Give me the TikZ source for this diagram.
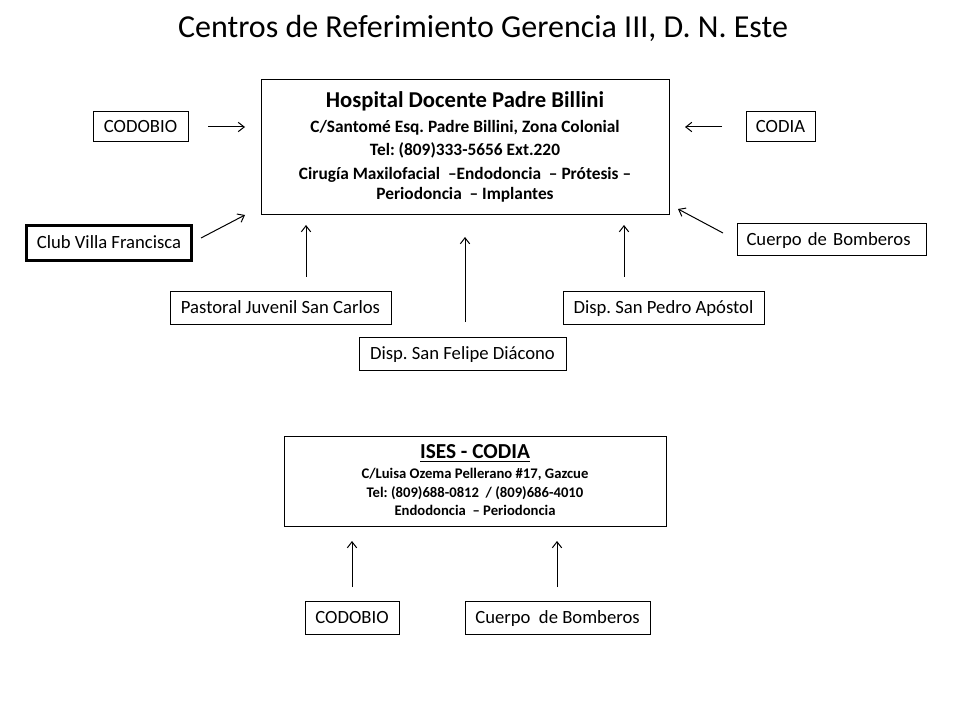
\documentclass[tikz,border=0pt]{standalone}
\usepackage{fontspec}
\setmainfont{Carlito}
\usetikzlibrary{arrows.meta}
\frenchspacing
\tikzset{
  bx/.style 2 args={draw=black, line width=0.75pt, inner sep=0pt, minimum width=#1*0.75pt, minimum height=#2*0.75pt, font=\fontsize{14}{16}\selectfont, text height=11.1pt, text depth=2.1pt},
  thickbx/.style={line width=2.25pt},
  txt/.style={inner sep=0pt, anchor=center},
  arr/.style={line width=0.75pt, -{Straight Barb[length=4.5pt,width=7pt,line width=0.75pt]}},
  titlef/.style={font=\fontsize{24}{28}\selectfont, text height=19.1pt, text depth=3.6pt},
  hospA/.style={font=\fontsize{17}{19}\selectfont\bfseries, text height=13.5pt, text depth=2.55pt},
  hospB/.style={font=\fontsize{13}{15}\selectfont\bfseries, text height=10.3pt, text depth=1.95pt},
  isesA/.style={font=\fontsize{16}{18}\selectfont\bfseries, text height=12.7pt, text depth=2.4pt},
  isesB/.style={font=\fontsize{11}{13}\selectfont\bfseries, text height=8.7pt, text depth=1.65pt},
}
\begin{document}
\begin{tikzpicture}[x=0.75pt,y=-0.75pt]
\useasboundingbox (0,0) rectangle (960,720);
% title
\node[txt, titlef] (title) at (483,27) {Centros de Referimiento Gerencia III, D. N. Este};
% main hospital box
\node[bx={408}{135}] (hosp) at (465,147.5) {};
\node[txt, hospA] (h1) at (465,100) {Hospital Docente Padre Billini};
\node[txt, hospB] (h2) at (465,127) {C/Santomé Esq. Padre Billini, Zona Colonial};
\node[txt, hospB] (h3) at (465,150) {Tel: (809)333-5656 Ext.220};
\node[txt, hospB] (h4) at (465,174) {Cirugía Maxilofacial \ –Endodoncia \ – Prótesis –};
\node[txt, hospB] (h5) at (465,194) {Periodoncia \ – Implantes};
% surrounding boxes
\node[bx={95}{30}] (codobio) at (140.5,127) {CODOBIO};
\node[bx={69}{30}] (codia) at (780.5,127) {CODIA};
\node[bx={165}{35}, thickbx] (club) at (109,243) {Club Villa Francisca};
\node[bx={189}{32}, align=left, text width=170*0.75pt, inner xsep=0pt] (bomb1) at (831.5,240) {Cuerpo de Bomberos};
\node[bx={221}{32}] (pastoral) at (280.5,308) {Pastoral Juvenil San Carlos};
\node[bx={201}{32}] (pedro) at (663.5,308) {Disp. San Pedro Apóstol};
\node[bx={207}{33}] (felipe) at (462.5,353.5) {Disp. San Felipe Diácono};
% arrows top
\coordinate (a1s) at (208,127); \coordinate (a1e) at (245,127);
\coordinate (a2s) at (722,127); \coordinate (a2e) at (685,127);
\coordinate (a3s) at (201,238); \coordinate (a3e) at (245,215);
\coordinate (a4s) at (723,233); \coordinate (a4e) at (678,209);
\coordinate (a5s) at (306,277); \coordinate (a5e) at (306,225);
\coordinate (a6s) at (624,277); \coordinate (a6e) at (624,225);
\coordinate (a7s) at (465,322); \coordinate (a7e) at (465,237);
\draw[arr] (a1s) -- (a1e);
\draw[arr] (a2s) -- (a2e);
\draw[arr] (a3s) -- (a3e);
\draw[arr] (a4s) -- (a4e);
\draw[arr] (a5s) -- (a5e);
\draw[arr] (a6s) -- (a6e);
\draw[arr] (a7s) -- (a7e);
% ISES box
\node[bx={382}{90}] (ises) at (475,481) {};
\node[txt, isesA] (i1) at (475,452) {\underline{ISES - CODIA}};
\node[txt, isesB] (i2) at (475,474) {C/Luisa Ozema Pellerano \#17, Gazcue};
\node[txt, isesB] (i3) at (475,493) {Tel: (809)688-0812 \ / (809)686-4010};
\node[txt, isesB] (i4) at (475,511) {Endodoncia \ – Periodoncia};
% bottom boxes
\node[bx={94}{33}] (codobio2) at (352,617.5) {CODOBIO};
\node[bx={185}{33}] (bomb2) at (557.5,617.5) {Cuerpo \ de Bomberos};
\coordinate (a8s) at (352,587); \coordinate (a8e) at (352,541);
\coordinate (a9s) at (557,587); \coordinate (a9e) at (557,541);
\draw[arr] (a8s) -- (a8e);
\draw[arr] (a9s) -- (a9e);
\end{tikzpicture}
\end{document}
